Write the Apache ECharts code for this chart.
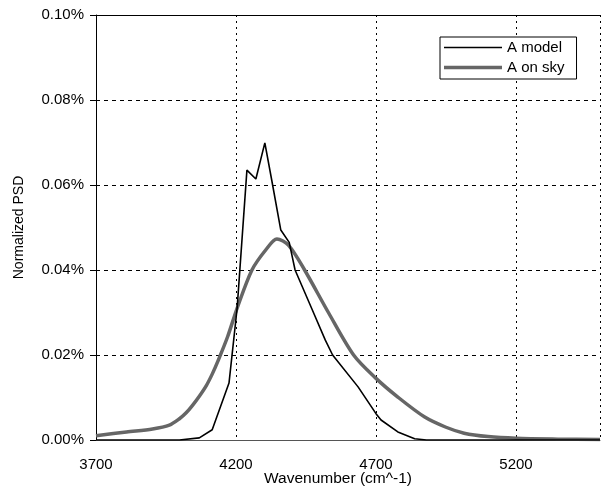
<!DOCTYPE html>
<html>
<head>
<meta charset="utf-8">
<script src="https://cdn.jsdelivr.net/npm/echarts@6/dist/echarts.min.js"></script>
<style>
html,body{margin:0;padding:0;background:#fff;}
#chart{width:602px;height:488px;}
</style>
</head>
<body>
<div id="chart"></div>
<script>
// Data (values in percent)
const seriesNames = ['A model', 'A on sky'];
const modelWave = [3700, 3900, 3998, 4069, 4115, 4175, 4204, 4239, 4271, 4303, 4328, 4360, 4390, 4411, 4470, 4519, 4545, 4636, 4700, 4718, 4778, 4838, 4880, 5500];
const modelPSD  = [0, 0, 0, 0.0005, 0.0024, 0.0134, 0.031, 0.0635, 0.0614, 0.0699, 0.061, 0.0494, 0.0465, 0.040, 0.031, 0.0235, 0.020, 0.0125, 0.0062, 0.0047, 0.0019, 0.0003, 0, 0];
const skyWave = [3700, 3809, 3902, 3962, 3998, 4022, 4044, 4069, 4094, 4115, 4135, 4170, 4204, 4257, 4306, 4346, 4388, 4445, 4530, 4620, 4700, 4778, 4874, 4950, 5015, 5100, 5200, 5350, 5500];
const skyPSD  = [0.001, 0.0019, 0.0026, 0.0035, 0.0050, 0.0064, 0.0081, 0.0103, 0.0128, 0.0155, 0.0185, 0.0243, 0.031, 0.040, 0.0447, 0.0473, 0.0458, 0.040, 0.030, 0.020, 0.0145, 0.0101, 0.0054, 0.003, 0.0016, 0.0008, 0.0004, 0.0002, 0.0001];
const xTicks = [3700, 4200, 4700, 5200];
const yTicks = ['0.00%', '0.02%', '0.04%', '0.06%', '0.08%', '0.10%'];

const pair = (xs, ys) => xs.map((x, i) => [x, ys[i]]);
const FONT = '"Liberation Sans", Arial, sans-serif';

const chart = echarts.init(document.getElementById('chart'), null, {renderer: 'canvas'});
chart.setOption({
  animation: false,
  backgroundColor: '#fff',
  grid: {left: 96, right: 2, top: 15, bottom: 48, containLabel: false, outerBoundsMode: 'none'},
  legend: {
    orient: 'vertical',
    left: 440, top: 37,
    backgroundColor: '#fff',
    borderColor: '#000', borderWidth: 1, borderRadius: 0,
    padding: [3, 12, 4, 4],
    itemGap: 5,
    itemWidth: 58, itemHeight: 12,
    textStyle: {fontFamily: FONT, fontSize: 15, color: '#000'},
    data: [
      {name: seriesNames[0], icon: 'path://M0,0 M58,12 M0,5.2 L58,5.2 L58,6.8 L0,6.8 Z'},
      {name: seriesNames[1], icon: 'path://M0,0 M58,12 M0,4.2 L58,4.2 L58,7.8 L0,7.8 Z'}
    ]
  },
  xAxis: [{
    type: 'value',
    min: 3700, max: 5500, interval: 500,
    name: 'Wavenumber (cm^-1)',
    nameLocation: 'middle', nameGap: 31, nameMoveOverlap: false,
    nameTextStyle: {fontFamily: FONT, fontSize: 15.5, color: '#000', padding: [0, 20, 0, 0]},
    axisLine: {show: true, lineStyle: {color: '#555', width: 1}},
    axisTick: {show: false},
    axisLabel: {
      fontFamily: FONT, fontSize: 15, color: '#000', margin: 17,
      showMaxLabel: false,
      formatter: v => xTicks.indexOf(v) >= 0 ? String(v) : ''
    },
    splitLine: {show: true, lineStyle: {color: '#000', type: [2, 4], width: 1}}
  }, {
    type: 'value', position: 'top',
    min: 3700, max: 5500,
    axisLine: {show: true, onZero: false, lineStyle: {color: '#000', width: 1}},
    axisTick: {show: false}, axisLabel: {show: false}, splitLine: {show: false}
  }],
  yAxis: {
    type: 'value',
    min: 0, max: 0.1, interval: 0.02,
    name: 'Normalized PSD',
    nameLocation: 'middle', nameGap: 70, nameRotate: 90, nameMoveOverlap: false,
    nameTextStyle: {fontFamily: FONT, fontSize: 14, color: '#000'},
    axisLine: {show: true, lineStyle: {color: '#000', width: 1}},
    axisTick: {show: true, inside: false, length: 6, lineStyle: {color: '#000'}},
    axisLabel: {
      fontFamily: FONT, fontSize: 15, color: '#000', margin: 12,
      formatter: v => yTicks[Math.round(v / 0.02)]
    },
    splitLine: {show: true, lineStyle: {color: '#000', type: [4, 4], width: 1}}
  },
  series: [
    {
      name: seriesNames[0], type: 'line', data: pair(modelWave, modelPSD),
      symbol: 'none', smooth: false,
      lineStyle: {color: '#000', width: 1.6},
      itemStyle: {color: '#000'},
      z: 3
    },
    {
      name: seriesNames[1], type: 'line', data: pair(skyWave, skyPSD),
      symbol: 'none', smooth: 0.3,
      lineStyle: {color: '#666', width: 3.5},
      itemStyle: {color: '#666'},
      z: 2
    }
  ]
});
</script>
</body>
</html>
